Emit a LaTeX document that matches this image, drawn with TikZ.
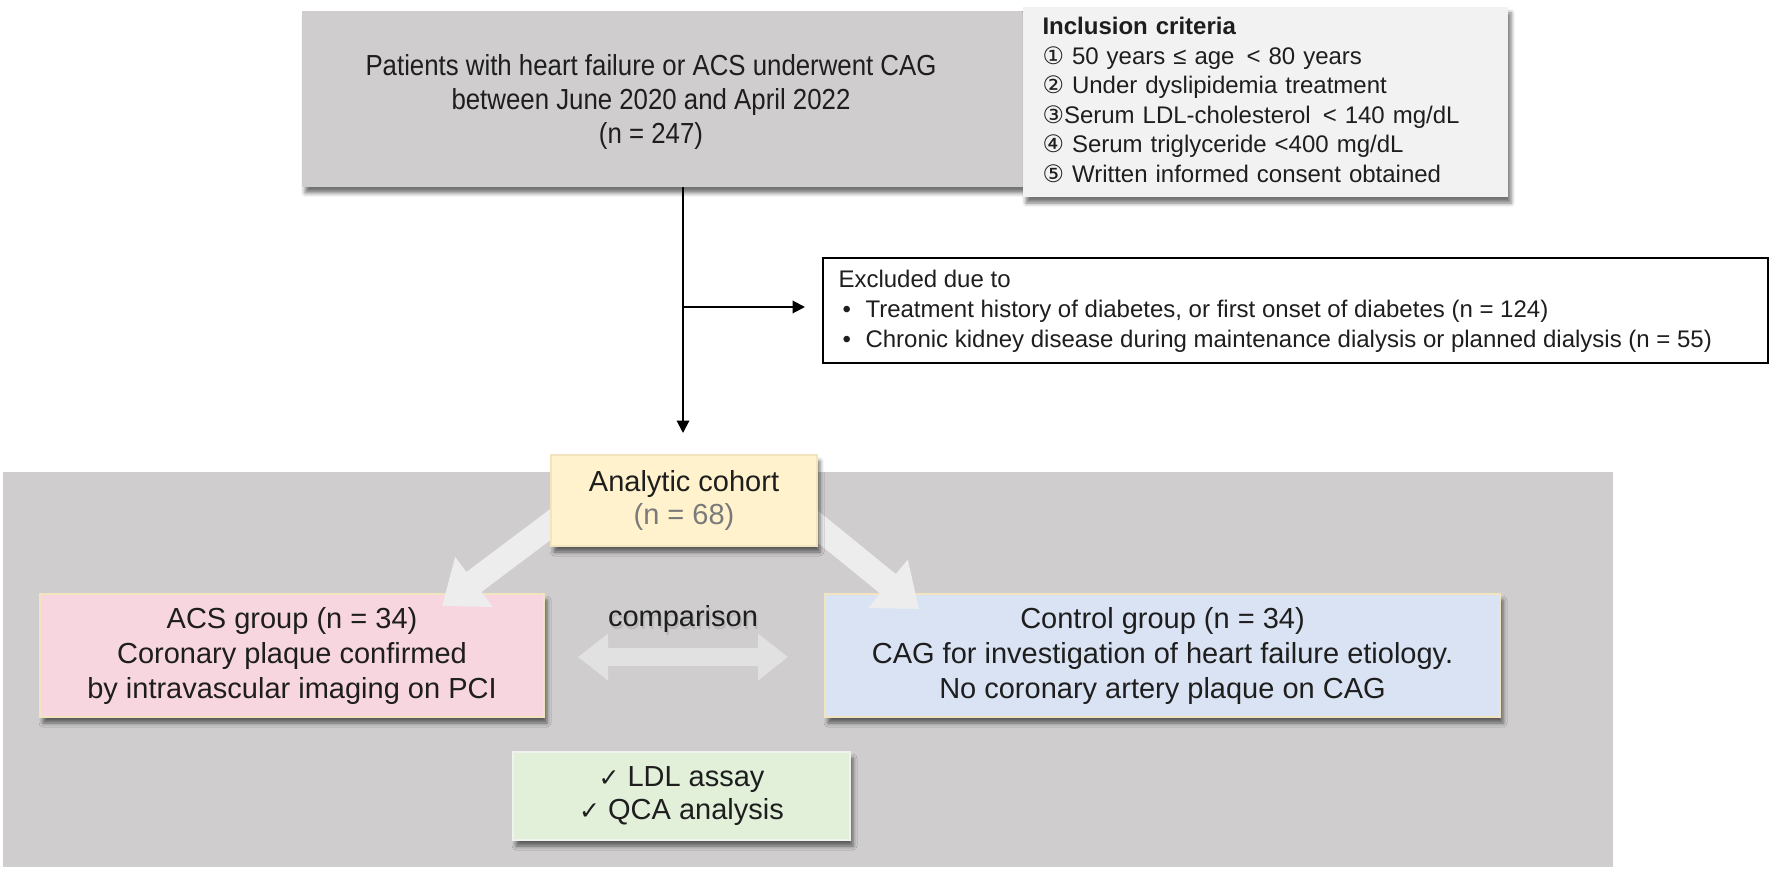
\documentclass[tikz,border=0pt]{standalone}
\usepackage{fontspec}
\setmainfont{Liberation Sans}
\newfontfamily\narrowfont[FakeStretch=0.89]{Liberation Sans}
\newfontfamily\dejavu{DejaVu Sans}
\usetikzlibrary{arrows.meta,shadows,shadows.blur,calc}
\definecolor{panelgray}{HTML}{CFCDCE}
\definecolor{inclgray}{HTML}{F2F2F2}
\definecolor{cohortyellow}{HTML}{FFF2CC}
\definecolor{acspink}{HTML}{F8D6DF}
\definecolor{ctrlblue}{HTML}{DAE3F3}
\definecolor{assaygreen}{HTML}{E2F0D9}
\definecolor{fatgray}{HTML}{EDEDED}
\definecolor{cremeline}{HTML}{F2E4BE}
\definecolor{txt}{HTML}{1E1E1E}
\definecolor{ntxt}{HTML}{7A7A7A}
\begin{document}
\begin{tikzpicture}[x=0.4pt,y=-0.4pt,
  every node/.style={text=txt},
  softshadow/.style={blur shadow={shadow xshift=1.2pt,shadow yshift=-2.4pt,shadow blur radius=1.6pt,shadow opacity=55}},
  bigbox/.style={draw=none,fill=panelgray,inner sep=0pt,softshadow},
  groupbox/.style={draw=cremeline,line width=0.5pt,inner sep=0pt,align=center,
    font=\fontsize{11.6pt}{14pt}\selectfont,softshadow},
  listbox/.style={inner sep=0pt,align=left,font=\fontsize{9.6pt}{11.8pt}\selectfont},
  conn/.style={draw=black,line width=0.8pt,-{Triangle[length=5pt,width=5pt]}},
  fat/.style={draw=fatgray,line width=10pt,-{Triangle[length=16pt,width=24pt]}},
  fatboth/.style={draw=fatgray!95!black,line width=7pt,{Triangle[length=12pt,width=18pt]}-{Triangle[length=12pt,width=18pt]}}
]
\useasboundingbox (0,0) rectangle (1770,871);

% top box
\node[bigbox,minimum width=762*0.4pt,minimum height=176*0.4pt] (top) at (683,99) {};
\node[inner sep=0pt,align=center,font=\narrowfont\fontsize{11.6pt}{13.6pt}\selectfont] (toptxt) at (651,102)
  {Patients with heart failure or ACS underwent CAG\\between June 2020 and April 2022\\(n = 247)};

% inclusion criteria
\node[listbox,fill=inclgray,softshadow,minimum width=485*0.4pt,minimum height=190*0.4pt] (inclbg) at (1265.5,102) {};
\node[listbox,anchor=west,text width=447*0.4pt] (incl) at (1042,100)
  {\textbf{Inclusion criteria}\\
   {\dejavu ①} 50 years ≤ age \,< 80 years\\
   {\dejavu ②} Under dyslipidemia treatment\\
   {\dejavu ③}Serum LDL-cholesterol \,< 140 mg/dL\\
   {\dejavu ④} Serum triglyceride <400 mg/dL\\
   {\dejavu ⑤} Written informed consent obtained};

% exclusion box
\node[draw=black,line width=0.8pt,fill=white,minimum width=945*0.4pt,minimum height=105*0.4pt,inner sep=0pt] (excl) at (1295.5,310.5) {};
\node[listbox,anchor=west,font=\fontsize{9.6pt}{12pt}\selectfont] (excltxt) at (838,311)
  {Excluded due to\\
   \hspace{1.6pt}\makebox[9.2pt][l]{\textbullet}Treatment history of diabetes, or first onset of diabetes (n = 124)\\
   \hspace{1.6pt}\makebox[9.2pt][l]{\textbullet}Chronic kidney disease during maintenance dialysis or planned dialysis (n = 55)};

% connectors
\coordinate (branch) at (683,307);
\coordinate (downEnd) at (683,433);
\draw[conn] (top.south) -- (downEnd);
\draw[conn,shorten >=6.8pt] (branch) -- (excl.west |- branch);

% bottom panel
\fill[panelgray] (3,472) rectangle (1613,867);

% group boxes
\node[groupbox,fill=acspink,minimum width=504*0.4pt,minimum height=123*0.4pt] (acs) at (292,655.5)
  {ACS group (n = 34)\\Coronary plaque confirmed\\by intravascular imaging on PCI};
\node[groupbox,fill=ctrlblue,minimum width=675*0.4pt,minimum height=123*0.4pt] (ctrl) at (1162.5,655.5)
  {Control group (n = 34)\\CAG for investigation of heart failure etiology.\\No coronary artery plaque on CAG};
\node[groupbox,fill=assaygreen,draw=assaygreen!80!black!20!white,minimum width=337*0.4pt,minimum height=88*0.4pt,font=\fontsize{11.6pt}{13.2pt}\selectfont] (assay) at (681.5,796)
  {{\dejavu\fontsize{10pt}{13.2pt}\selectfont ✓} LDL assay\\{\dejavu\fontsize{10pt}{13.2pt}\selectfont ✓} QCA analysis};

% comparison
\node[font=\fontsize{11.6pt}{14pt}\selectfont,text=black!40,opacity=0.4] at (684.5,622) {comparison};
\node[font=\fontsize{11.6pt}{14pt}\selectfont] (cmp) at (683,619) {comparison};
\coordinate (cmpL) at (578,657);
\coordinate (cmpR) at (788,657);
\draw[fatboth] (cmpL) -- (cmpR);

% fat arrows from cohort
\coordinate (laS) at (583,500);
\coordinate (laT) at (442,606);
\coordinate (raS) at (785,500);
\coordinate (raT) at (919,609);
\draw[fat] (laS) -- (laT);
\draw[fat] (raS) -- (raT);

% cohort
\node[groupbox,fill=cohortyellow,minimum width=266*0.4pt,minimum height=91*0.4pt,font=\fontsize{11.6pt}{13.2pt}\selectfont] (cohort) at (684,500.5)
  {Analytic cohort\\{\color{ntxt}(n = 68)}};
\end{tikzpicture}
\end{document}
